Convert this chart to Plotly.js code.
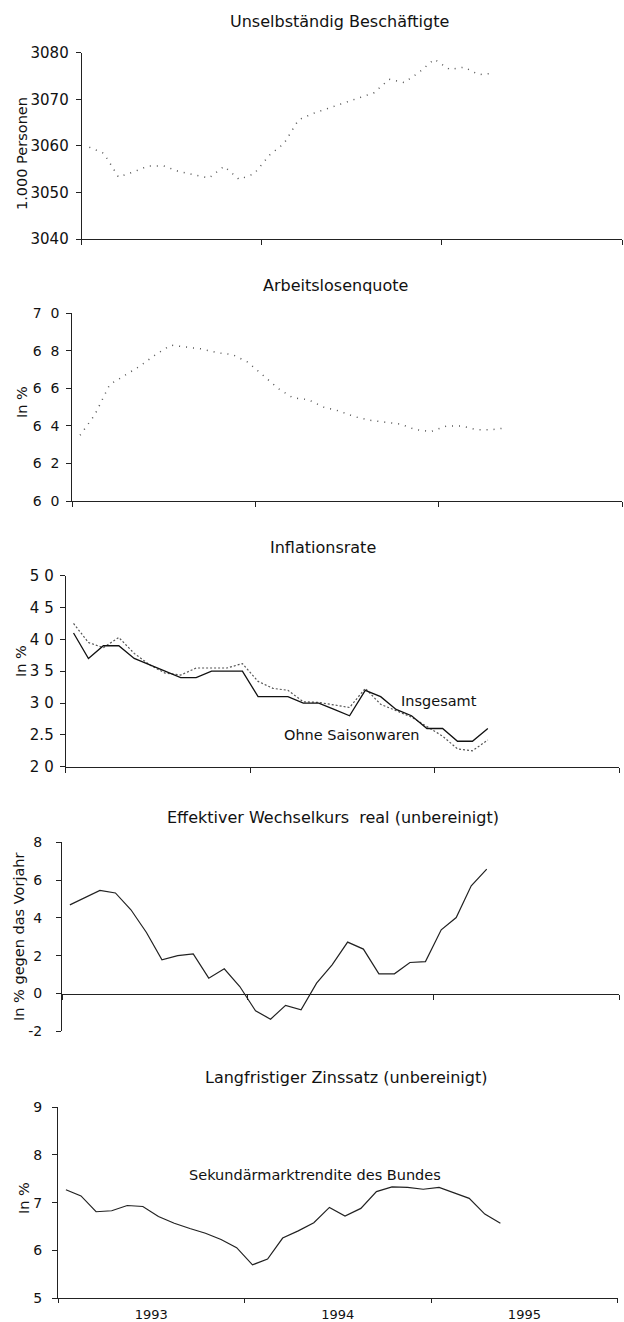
<!DOCTYPE html>
<html><head><meta charset="utf-8">
<script src="https://cdn.plot.ly/plotly-3.0.1.min.js"></script>
<style>html,body{margin:0;padding:0;background:#fff}#chart{width:624px;height:1322px}</style>
</head><body><div id="chart"></div>
<script>
// ---- data (monthly, Jan 1993 onwards) ----
const months = ['1993-01','1993-02','1993-03','1993-04','1993-05','1993-06','1993-07','1993-08','1993-09','1993-10','1993-11','1993-12',
  '1994-01','1994-02','1994-03','1994-04','1994-05','1994-06','1994-07','1994-08','1994-09','1994-10','1994-11','1994-12',
  '1995-01','1995-02','1995-03','1995-04','1995-05'];

const beschaeftigte = [3059.7, 3058.4, 3053.3, 3054.4, 3055.7, 3055.7, 3054.5, 3053.8, 3053.1, 3055.6, 3052.8, 3054.0,
  3058.0, 3060.5, 3065.6, 3067.0, 3068.1, 3069.2, 3070.3, 3071.4, 3074.3, 3073.6, 3075.8, 3078.6,
  3076.4, 3076.9, 3075.3, 3075.6];

const arbeitslosenquote = [6.35, 6.46, 6.62, 6.67, 6.72, 6.78, 6.83, 6.82, 6.81, 6.79, 6.78, 6.74,
  6.67, 6.60, 6.55, 6.54, 6.50, 6.48, 6.45, 6.43, 6.42, 6.41, 6.38, 6.37,
  6.40, 6.40, 6.38, 6.38, 6.39];

const inflationInsgesamt = [4.1, 3.7, 3.9, 3.9, 3.7, 3.6, 3.5, 3.4, 3.4, 3.5, 3.5, 3.5,
  3.1, 3.1, 3.1, 3.0, 3.0, 2.9, 2.8, 3.2, 3.1, 2.9, 2.8, 2.6,
  2.6, 2.4, 2.4, 2.6];

const inflationOhneSaison = [4.25, 3.95, 3.87, 4.03, 3.78, 3.60, 3.47, 3.44, 3.55, 3.55, 3.55, 3.62,
  3.34, 3.23, 3.20, 3.02, 3.01, 2.97, 2.93, 3.23, 2.98, 2.88, 2.78, 2.63,
  2.48, 2.28, 2.25, 2.42];

const wechselkurs = [4.69, 5.07, 5.45, 5.32, 4.43, 3.23, 1.78, 2.00, 2.10, 0.81, 1.31, 0.37,
  -0.92, -1.36, -0.63, -0.86, 0.55, 1.52, 2.72, 2.35, 1.04, 1.04, 1.64, 1.69,
  3.37, 4.02, 5.70, 6.58];

const zinssatz = [7.27, 7.14, 6.81, 6.83, 6.94, 6.92, 6.71, 6.57, 6.46, 6.36, 6.23, 6.06,
  5.70, 5.82, 6.26, 6.41, 6.58, 6.90, 6.72, 6.88, 7.23, 7.33, 7.32, 7.28,
  7.32, 7.21, 7.09, 6.76, 6.57];

// tick values / labels
const ticks1 = [3040, 3050, 3060, 3070, 3080];
const ticks1Text = ['3040', '3050', '3060', '3070', '3080'];
const ticks2 = [6.0, 6.2, 6.4, 6.6, 6.8, 7.0];
const ticks2Text = ['6\u20070', '6\u20072', '6\u20074', '6\u20076', '6\u20078', '7\u20070'];
const ticks3 = [2.0, 2.5, 3.0, 3.5, 4.0, 4.5, 5.0];
const ticks3Text = ['2 0', '2.5', '3 0', '3 5', '4 0', '4 5', '5 0'];
const ticks4 = [-2, 0, 2, 4, 6, 8];
const ticks4Text = ['-2', '0', '2', '4', '6', '8'];
const ticks5 = [5, 6, 7, 8, 9];
const ticks5Text = ['5', '6', '7', '8', '9'];

const titles = ['Unselbständig Beschäftigte', 'Arbeitslosenquote', 'Inflationsrate',
  'Effektiver Wechselkurs  real (unbereinigt)', 'Langfristiger Zinssatz (unbereinigt)'];
const yTitles = ['1.000 Personen', 'In %', 'In %', 'In % gegen das Vorjahr', 'In %'];

// ---- layout helpers (pixel geometry -> paper) ----
const W = 624, H = 1322;
const FONT = 'DejaVu Sans, Verdana, sans-serif';
const px = x => x / W;
const py = y => 1 - y / H;

const panels = [
  {x0: 81.7, x1: 622, yTop: 52.7, yBot: 239},
  {x0: 72.3, x1: 622, yTop: 313.3, yBot: 501},
  {x0: 65.7, x1: 619.3, yTop: 575.7, yBot: 766.7},
  {x0: 62, x1: 619, yTop: 842.3, yBot: 1031.3},
  {x0: 58, x1: 617.7, yTop: 1107, yBot: 1298.3}
];

function xAxis(i, extra) {
  const p = panels[i];
  return Object.assign({
    domain: [px(p.x0), px(p.x1)], type: 'date', range: ['1993-01-01', '1996-01-01'],
    tick0: '1993-01-01', dtick: 'M12', ticks: 'outside', ticklen: 5, tickwidth: 1, tickcolor: '#222',
    showline: true, linecolor: '#222', linewidth: 1, showgrid: false, zeroline: false,
    showticklabels: false, tickformat: '%Y', ticklabelmode: 'period',
    tickfont: {family: FONT, size: 13, color: '#111'}, fixedrange: true,
    anchor: 'y' + (i === 0 ? '' : i + 1)
  }, extra || {});
}
function yAxis(i, range, vals, text, fsize, standoff) {
  const p = panels[i];
  return {
    domain: [py(p.yBot), py(p.yTop)], range: range, tickmode: 'array', tickvals: vals, ticktext: text,
    ticks: 'outside', ticklen: 5, tickwidth: 1, tickcolor: '#222',
    showline: true, linecolor: '#222', linewidth: 1, showgrid: false, zeroline: false,
    tickfont: {family: FONT, size: fsize, color: '#111'}, ticklabelstandoff: standoff,
    fixedrange: true, anchor: 'x' + (i === 0 ? '' : i + 1)
  };
}

// x axis of panel 4 sits on the zero line
const p4 = panels[3];
const r4 = [-2, 8];
const zeroPos = py(p4.yBot) + (0 - r4[0]) / (r4[1] - r4[0]) * (py(p4.yTop) - py(p4.yBot));

const common = {xperiod: 'M1', xperiodalignment: 'middle', mode: 'lines', hoverinfo: 'skip', showlegend: false};
const traces = [
  Object.assign({x: months.slice(0, beschaeftigte.length), y: beschaeftigte, xaxis: 'x', yaxis: 'y',
    line: {color: '#555', width: 1.5, dash: '1px,6px'}}, common),
  Object.assign({x: months.slice(0, arbeitslosenquote.length), y: arbeitslosenquote, xaxis: 'x2', yaxis: 'y2',
    line: {color: '#555', width: 1.5, dash: '1px,6px'}}, common),
  Object.assign({x: months.slice(0, inflationOhneSaison.length), y: inflationOhneSaison, xaxis: 'x3', yaxis: 'y3',
    name: 'Ohne Saisonwaren', line: {color: '#555', width: 1.2, dash: '2px,2px'}}, common),
  Object.assign({x: months.slice(0, inflationInsgesamt.length), y: inflationInsgesamt, xaxis: 'x3', yaxis: 'y3',
    name: 'Insgesamt', line: {color: '#111', width: 1.3}}, common),
  Object.assign({x: months.slice(0, wechselkurs.length), y: wechselkurs, xaxis: 'x4', yaxis: 'y4',
    line: {color: '#222', width: 1.2}}, common),
  Object.assign({x: months.slice(0, zinssatz.length), y: zinssatz, xaxis: 'x5', yaxis: 'y5',
    line: {color: '#222', width: 1.2}}, common)
];

const titlePos = [[339, 21], [335, 285], [323, 547], [333, 817], [346, 1077]];
const yTitlePos = [[22, 154], [22, 402], [21, 661], [19, 937], [24, 1198]];
const annotations = [];
titles.forEach((t, i) => annotations.push({text: t, xref: 'paper', yref: 'paper',
  x: px(titlePos[i][0]), y: py(titlePos[i][1]), xanchor: 'center', yanchor: 'middle', showarrow: false,
  font: {family: FONT, size: 16, color: '#111'}}));
yTitles.forEach((t, i) => annotations.push({text: t, xref: 'paper', yref: 'paper', textangle: -90,
  x: px(yTitlePos[i][0]), y: py(yTitlePos[i][1]), xanchor: 'center', yanchor: 'middle', showarrow: false,
  font: {family: FONT, size: 14.5, color: '#111'}}));
// series labels
[['Insgesamt', 439, 701], ['Ohne Saisonwaren', 352, 735], ['Sekundärmarktrendite des Bundes', 315, 1175]]
  .forEach(a => annotations.push({text: a[0], xref: 'paper', yref: 'paper', x: px(a[1]), y: py(a[2]),
    xanchor: 'center', yanchor: 'middle', showarrow: false, font: {family: FONT, size: 14.5, color: '#111'}}));

const layout = {
  width: W, height: H, margin: {l: 0, r: 0, t: 0, b: 0},
  paper_bgcolor: '#fff', plot_bgcolor: 'rgba(0,0,0,0)', showlegend: false,
  xaxis: xAxis(0), xaxis2: xAxis(1), xaxis3: xAxis(2),
  xaxis4: xAxis(3, {anchor: 'free', position: zeroPos}),
  xaxis5: xAxis(4, {showticklabels: true, ticklen: 4}),
  yaxis: yAxis(0, [3040, 3080], ticks1, ticks1Text, 15, 4),
  yaxis2: yAxis(1, [6.0, 7.0], ticks2, ticks2Text, 14, 4),
  yaxis3: yAxis(2, [2.0, 5.0], ticks3, ticks3Text, 15, 3),
  yaxis4: yAxis(3, r4, ticks4, ticks4Text, 14, 11),
  yaxis5: yAxis(4, [5, 9], ticks5, ticks5Text, 14, 7),
  annotations: annotations
};

Plotly.newPlot('chart', traces, layout, {displayModeBar: false, staticPlot: true});
</script></body></html>
